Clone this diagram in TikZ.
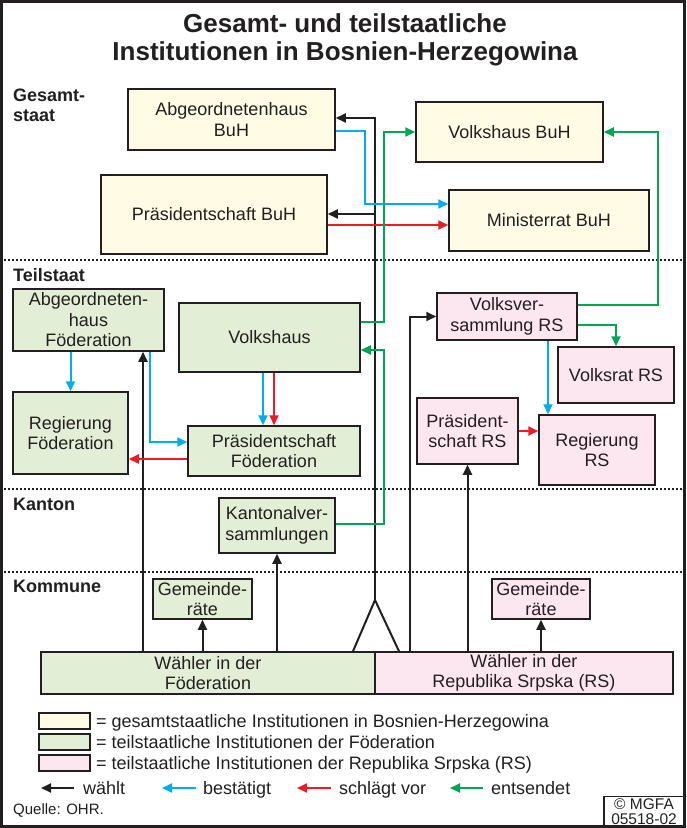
\documentclass[tikz,border=0pt]{standalone}
\usepackage{fontspec}
\setmainfont{Liberation Sans}
\usetikzlibrary{arrows.meta}
\definecolor{buhgelb}{HTML}{FFFBE4}
\definecolor{fedgruen}{HTML}{E2EFD6}
\definecolor{rsrosa}{HTML}{FCE6F0}
\definecolor{pfblau}{HTML}{00AEEF}
\definecolor{pfrot}{HTML}{ED1C24}
\definecolor{pfgruen}{HTML}{00A651}
\definecolor{dunkel}{HTML}{231F20}
\tikzset{
  inst/.style={draw=dunkel, line width=1.5pt, text=dunkel, align=center, inner sep=1pt,
    font=\fontsize{18}{20.5}\selectfont},
  buh/.style={inst, fill=buhgelb},
  fed/.style={inst, fill=fedgruen},
  rs/.style={inst, fill=rsrosa},
  pfeil/.style={line width=2pt, -{Triangle[length=10pt,width=9pt]}},
  wahlt/.style={pfeil, draw=dunkel},
  best/.style={pfeil, draw=pfblau},
  vor/.style={pfeil, draw=pfrot},
  ents/.style={pfeil, draw=pfgruen},
  ebene/.style={font=\fontsize{18}{19.5}\selectfont\bfseries, text=dunkel, anchor=north west,
    align=left, inner sep=0pt},
  trenn/.style={dunkel, line width=1.2pt, dash pattern=on 2pt off 2pt},
  legtxt/.style={font=\fontsize{18}{20}\selectfont, text=dunkel, anchor=base west, inner sep=0pt},
  legbox/.style={draw=dunkel, line width=1.2pt, minimum width=51pt, minimum height=16pt, inner sep=0pt},
}
\begin{document}
\begin{tikzpicture}[x=1pt,y=-1pt]
  \useasboundingbox (0,0) rectangle (686,828);
  % Rahmen
  \draw[dunkel, line width=3pt] (1.5,1.5) rectangle (684.5,826.5);

  % Titel
  \node[font=\fontsize{26}{28}\selectfont\bfseries, text=dunkel, align=center] (titel) at (345,40)
    {Gesamt- und teilstaatliche\\Institutionen in Bosnien-Herzegowina};

  % Ebenen
  \draw[trenn] (4,260) -- (683,260);
  \draw[trenn] (4,489) -- (683,489);
  \draw[trenn] (4,572) -- (683,572);
  \node[ebene] (gesamt) at (13,89) {Gesamt-\\staat};
  \node[ebene] (teil) at (13,268) {Teilstaat};
  \node[ebene] (kanton) at (13,498) {Kanton};
  \node[ebene] (kommune) at (13,580) {Kommune};

  % Gesamtstaat
  \node[buh, minimum width=207, minimum height=61] (abhbuh) at (231.5,119.5) {Abgeordnetenhaus\\BuH};
  \node[buh, minimum width=226, minimum height=79] (prbuh) at (214,214.5) {Präsidentschaft BuH};
  \node[buh, minimum width=187, minimum height=60] (vhbuh) at (509.5,132) {Volkshaus BuH};
  \node[buh, minimum width=200, minimum height=61] (minbuh) at (549,220.5) {Ministerrat BuH};

  % Teilstaat Föderation
  \node[fed, minimum width=151, minimum height=62] (abhfed) at (88.5,320) {Abgeordneten-\\haus\\Föderation};
  \node[fed, minimum width=181, minimum height=69] (vhfed) at (269.5,337.5) {Volkshaus};
  \node[fed, minimum width=115, minimum height=82] (regfed) at (70.5,433) {Regierung\\Föderation};
  \node[fed, minimum width=172, minimum height=50] (prfed) at (274,451) {Präsidentschaft\\Föderation};

  % Teilstaat RS
  \node[rs, minimum width=140, minimum height=47] (vvrs) at (507,316.5) {Volksver-\\sammlung RS};
  \node[rs, minimum width=116, minimum height=56] (vrrs) at (616,375) {Volksrat RS};
  \node[rs, minimum width=101, minimum height=66] (prrs) at (467.5,431) {Präsident-\\schaft RS};
  \node[rs, minimum width=116, minimum height=70] (regrs) at (597,450) {Regierung\\RS};

  % Kanton, Kommune
  \node[fed, minimum width=116, minimum height=55] (kant) at (277,525.5) {Kantonalver-\\sammlungen};
  \node[fed, minimum width=99, minimum height=40] (gemfed) at (202.5,599) {Gemeinde-\\räte};
  \node[rs, minimum width=98, minimum height=40] (gemrs) at (541,599) {Gemeinde-\\räte};
  \node[fed, minimum width=334, minimum height=42] (wfed) at (208,673) {Wähler in der\\Föderation};
  \node[rs, minimum width=298, minimum height=42] (wrs) at (524,673) {Wähler in der\\Republika Srpska (RS)};

  % wählt
  \coordinate (apex) at (375,600);
  \draw[dunkel, line width=2pt] (wfed.north -| 353,0) -- (apex) -- (wrs.north -| 399,0);
  \draw[wahlt] (apex) -- (375,118) -- (abhbuh.east |- 0,118);
  \draw[wahlt] (375,214) -- (prbuh.east |- 0,214);
  \draw[wahlt] (wfed.north -| 143,0) -- (abhfed.south -| 143,0);
  \draw[wahlt] (wfed.north -| gemfed.south) -- (gemfed.south);
  \draw[wahlt] (wfed.north -| kant.south) -- (kant.south);
  \draw[wahlt] (wrs.north -| 410,0) |- (vvrs.west);
  \draw[wahlt] (wrs.north -| prrs.south) -- (prrs.south);
  \draw[wahlt] (wrs.north -| gemrs.south) -- (gemrs.south);

  % bestätigt
  \draw[best] (abhbuh.east |- 0,131) -| (365,204) -- (minbuh.west |- 0,204);
  \draw[best] (regfed.north |- abhfed.south) -- (regfed.north);
  \draw[best] (abhfed.south -| 150,0) |- ([yshift=9pt]prfed.west);
  \draw[best] (vhfed.south -| 263,0) -- (prfed.north -| 263,0);
  \draw[best] (vvrs.south -| 548,0) -- (regrs.north -| 548,0);

  % schlägt vor
  \draw[vor] (prbuh.east |- 0,225) -- (minbuh.west |- 0,225);
  \draw[vor] (vhfed.south -| 274,0) -- (prfed.north -| 274,0);
  \draw[vor] (prfed.west |- 0,459) -- (regfed.east |- 0,459);
  \draw[vor] (prrs.east) -- (regrs.west |- prrs.east);

  % entsendet
  \draw[ents] (vhfed.east |- 0,322) -| (384,132) -- (vhbuh.west);
  \draw[ents] (vvrs.east |- 0,305) -| (658,132) -- (vhbuh.east);
  \draw[ents] (vvrs.east |- 0,325) -| (vrrs.north);
  \draw[ents] (kant.east |- 0,524) -| (384,350) -- (vhfed.east |- 0,350);

  % Legende
  \node[legbox, fill=buhgelb] (lgelb) at (64.5,721) {};
  \node[legbox, fill=fedgruen] (lgruen) at (64.5,742) {};
  \node[legbox, fill=rsrosa] (lrosa) at (64.5,763) {};
  \node[legtxt] (tgelb) at (96,727) {= gesamtstaatliche Institutionen in Bosnien-Herzegowina};
  \node[legtxt] (tgruen) at (96,748) {= teilstaatliche Institutionen der Föderation};
  \node[legtxt] (trosa) at (96,769) {= teilstaatliche Institutionen der Republika Srpska (RS)};

  \node[legtxt] (lwahl) at (83,794) {wählt};
  \node[legtxt] (lbest) at (203,794) {bestätigt};
  \node[legtxt] (lvor) at (339,794) {schlägt vor};
  \node[legtxt] (lents) at (491,794) {entsendet};
  \draw[wahlt] (74,788) -- (41,788);
  \draw[best] (196,788) -- (162,788);
  \draw[vor] (331,788) -- (297,788);
  \draw[ents] (483,788) -- (450,788);

  \node[font=\fontsize{15}{17}\selectfont, text=dunkel, anchor=west, inner sep=0pt] (quelle) at (13,810) {Quelle: OHR.};
  \node[draw=dunkel, line width=1.2pt, minimum width=80, minimum height=30, inner sep=0pt, align=center,
    text=dunkel, font=\fontsize{15.5}{14.5}\selectfont] (mgfa) at (644,811.5) {© MGFA\\05518-02};
\end{tikzpicture}
\end{document}
